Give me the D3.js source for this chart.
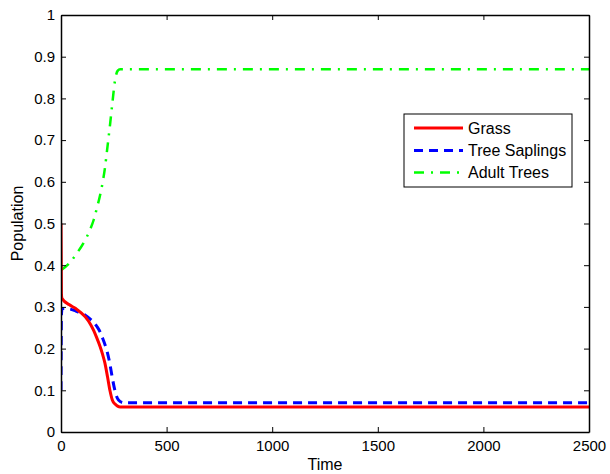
<!DOCTYPE html>
<html>
<head>
<meta charset="utf-8">
<script src="https://cdn.jsdelivr.net/npm/d3@7"></script>
<style>
  html, body { margin: 0; padding: 0; background: #fff; }
  svg { display: block; font-family: "Liberation Sans", Arial, Helvetica, sans-serif; }
</style>
</head>
<body>
<svg id="chart" width="610" height="474"></svg>
<script>
// Simulation output: time samples and population fractions
const time      = [0,    2,     5,     40,    70,    115,   140,   155,   170,   185,   197,   208,   220,   232,   243,   256,   268,   280,   300,  500,  1000, 1500, 2000, 2500];
const grass     = [0.50, 0.33,  0.32,  0.305, 0.296, 0.276, 0.258, 0.243, 0.225, 0.205, 0.186, 0.165, 0.133, 0.099, 0.077, 0.067, 0.062, 0.060, 0.06, 0.06, 0.06, 0.06, 0.06, 0.06];
const saplings  = [0.10, 0.28,  0.296, 0.295, 0.29,  0.28,  0.27,  0.263, 0.253, 0.24,  0.225, 0.21,  0.19,  0.162, 0.13,  0.098, 0.08,  0.073, 0.07, 0.07, 0.07, 0.07, 0.07, 0.07];
const adults    = [0.39, 0.389, 0.39,  0.405, 0.425, 0.461, 0.488, 0.509, 0.537, 0.568, 0.598, 0.633, 0.684, 0.736, 0.788, 0.844, 0.866, 0.87,  0.87, 0.87, 0.87, 0.87, 0.87, 0.87];

const xTicks = [0, 500, 1000, 1500, 2000, 2500];
const yTicks = [0, 0.1, 0.2, 0.3, 0.4, 0.5, 0.6, 0.7, 0.8, 0.9, 1];

const seriesNames = ["Grass", "Tree Saplings", "Adult Trees"];

const svg = d3.select("#chart");
const L = 61, R = 589, T = 15, B = 432;

const x = d3.scaleLinear().domain([0, 2500]).range([L, R]);
const y = d3.scaleLinear().domain([0, 1]).range([B, T]);

const styles = [
  { color: "#ff0000", width: 3,   dash: null },
  { color: "#0000ff", width: 3,   dash: "9,6" },
  { color: "#00ff00", width: 2.5, dash: "10,7,2,7" }
];
const seriesData = [grass, saplings, adults];

// clip region for the curves
svg.append("clipPath").attr("id", "plotClip")
  .append("rect").attr("x", L).attr("y", T - 2).attr("width", R - L).attr("height", B - T + 2);

const line = d3.line().curve(d3.curveMonotoneX);

const g = svg.append("g").attr("clip-path", "url(#plotClip)");
// adults first, grass last so the solid curve sits on top
[2, 1, 0].forEach(i => {
  const pts = time.map((t, k) => [x(t), y(seriesData[i][k])]);
  g.append("path")
    .attr("d", line(pts))
    .attr("fill", "none")
    .attr("stroke", styles[i].color)
    .attr("stroke-width", styles[i].width)
    .attr("stroke-dasharray", styles[i].dash)
    .attr("stroke-linejoin", "round");
});

// axes box with inward ticks on all four sides
const axG = svg.append("g");
const tickLen = 5;
const xAxisB = d3.axisBottom(x).tickValues(xTicks).tickSizeInner(-tickLen).tickSizeOuter(0).tickPadding(8).tickFormat(d3.format("d"));
const xAxisT = d3.axisTop(x).tickValues(xTicks).tickSizeInner(-tickLen).tickSizeOuter(0).tickFormat("");
const yAxisL = d3.axisLeft(y).tickValues(yTicks).tickSizeInner(-tickLen).tickSizeOuter(0).tickPadding(6).tickFormat(d3.format("~g"));
const yAxisR = d3.axisRight(y).tickValues(yTicks).tickSizeInner(-tickLen).tickSizeOuter(0).tickFormat("");

axG.append("g").attr("transform", `translate(0,${B})`).call(xAxisB);
axG.append("g").attr("transform", `translate(0,${T})`).call(xAxisT);
axG.append("g").attr("transform", `translate(${L},0)`).call(yAxisL);
axG.append("g").attr("transform", `translate(${R},0)`).call(yAxisR);

axG.selectAll(".domain").attr("stroke", "#000").attr("stroke-width", 1.5);
axG.selectAll(".tick line").attr("stroke", "#000").attr("stroke-width", 1);
axG.selectAll(".tick text").attr("fill", "#000").style("font-size", "15px")
  .style("font-family", "'Liberation Sans', Arial, sans-serif");

// axis titles
svg.append("text").attr("x", (L + R) / 2).attr("y", 470)
  .attr("text-anchor", "middle").style("font-size", "16px").text("Time");
svg.append("text").attr("transform", `translate(23,${(T + B) / 2}) rotate(-90)`)
  .attr("text-anchor", "middle").style("font-size", "16px").text("Population");

// legend
const lg = svg.append("g");
lg.append("rect").attr("x", 404).attr("y", 114).attr("width", 168).attr("height", 73)
  .attr("fill", "#fff").attr("stroke", "#000").attr("stroke-width", 1);
const rowY = [128, 150.5, 172.5];
seriesNames.forEach((name, i) => {
  lg.append("line").attr("x1", 414).attr("x2", 463).attr("y1", rowY[i]).attr("y2", rowY[i])
    .attr("stroke", styles[i].color).attr("stroke-width", styles[i].width)
    .attr("stroke-dasharray", styles[i].dash);
  lg.append("text").attr("x", 468).attr("y", rowY[i]).attr("dy", "0.36em")
    .style("font-size", "16px").text(name);
});
</script>
</body>
</html>
